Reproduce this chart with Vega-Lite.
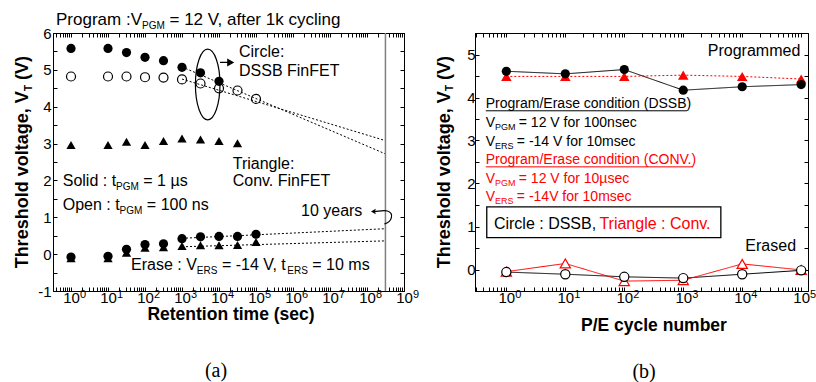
{
"$schema":"https://vega.github.io/schema/vega-lite/v6.json",
"background":"white",
"padding":{"left":13,"top":10,"right":0,"bottom":0},
"spacing":71,
"bounds":"flush",
"config":{
 "font":"Liberation Sans",
 "view":{"stroke":"black","strokeWidth":1},
 "axis":{"grid":false,"domainColor":"black","tickColor":"black","labelColor":"black","labelFont":"Liberation Sans","labelFontSize":15,"tickWidth":1,"domainWidth":1,"labelOverlap":false,"labelFlush":false,"labelBound":false}
},
"datasets":{
 "aPts":[
  {"s":"DSSB 1us P","t":1,"v":5.58},{"s":"DSSB 1us P","t":10,"v":5.58},{"s":"DSSB 1us P","t":31.6,"v":5.47},{"s":"DSSB 1us P","t":100,"v":5.34},{"s":"DSSB 1us P","t":316,"v":5.25},{"s":"DSSB 1us P","t":1000,"v":5.07},{"s":"DSSB 1us P","t":3162,"v":4.92},{"s":"DSSB 1us P","t":10000,"v":4.69},
  {"s":"DSSB 100ns P","t":1,"v":4.82},{"s":"DSSB 100ns P","t":10,"v":4.82},{"s":"DSSB 100ns P","t":31.6,"v":4.82},{"s":"DSSB 100ns P","t":100,"v":4.8},{"s":"DSSB 100ns P","t":316,"v":4.79},{"s":"DSSB 100ns P","t":1000,"v":4.74},{"s":"DSSB 100ns P","t":3162,"v":4.63},{"s":"DSSB 100ns P","t":10000,"v":4.5},{"s":"DSSB 100ns P","t":31623,"v":4.44},{"s":"DSSB 100ns P","t":100000,"v":4.21},
  {"s":"Conv P","t":1,"v":2.96},{"s":"Conv P","t":10,"v":2.96},{"s":"Conv P","t":31.6,"v":3.05},{"s":"Conv P","t":100,"v":2.96},{"s":"Conv P","t":316,"v":3.07},{"s":"Conv P","t":1000,"v":3.14},{"s":"Conv P","t":3162,"v":3.11},{"s":"Conv P","t":10000,"v":3.07},{"s":"Conv P","t":31623,"v":3.01},
  {"s":"DSSB E","t":1,"v":-0.08},{"s":"DSSB E","t":10,"v":-0.06},{"s":"DSSB E","t":31.6,"v":0.13},{"s":"DSSB E","t":100,"v":0.26},{"s":"DSSB E","t":316,"v":0.28},{"s":"DSSB E","t":1000,"v":0.42},{"s":"DSSB E","t":3162,"v":0.47},{"s":"DSSB E","t":10000,"v":0.48},{"s":"DSSB E","t":31623,"v":0.48},{"s":"DSSB E","t":100000,"v":0.54},
  {"s":"Conv E","t":1,"v":-0.11},{"s":"Conv E","t":10,"v":-0.11},{"s":"Conv E","t":31.6,"v":0.04},{"s":"Conv E","t":100,"v":0.17},{"s":"Conv E","t":316,"v":0.19},{"s":"Conv E","t":1000,"v":0.22},{"s":"Conv E","t":3162,"v":0.24},{"s":"Conv E","t":10000,"v":0.24},{"s":"Conv E","t":31623,"v":0.25},{"s":"Conv E","t":100000,"v":0.33}
 ],
 "aLines":[
  {"id":"L1","t":1000,"v":5.08},{"id":"L1","t":315000000,"v":2.72},
  {"id":"L2","t":1000,"v":4.75},{"id":"L2","t":315000000,"v":3.08},
  {"id":"L3","t":1000,"v":0.43},{"id":"L3","t":315000000,"v":0.69},
  {"id":"L4","t":1000,"v":0.2},{"id":"L4","t":315000000,"v":0.36}
 ],
 "aRule":[{"t":315000000}],
 "aShapes":[{"k":"ellipse","t":4950,"v":4.603},{"k":"arrow","t":15950,"v":5.201},{"k":"curve","t":270600000,"v":1.008}],
 "aText":[
  {"role":"title","t":0.3931,"v":6.226,"txt":"Program :V"},
  {"role":"title","t":459.3,"v":6.226,"txt":"= 12 V, after 1k cycling"},
  {"role":"titleSub","t":82.97,"v":6.117,"txt":"PGM"},
  {"role":"lab","t":34720,"v":5.337,"txt":"Circle:"},
  {"role":"lab","t":34720,"v":4.84,"txt":"DSSB FinFET"},
  {"role":"lab","t":23460,"v":2.304,"txt":"Triangle:"},
  {"role":"lab","t":23460,"v":1.851,"txt":"Conv. FinFET"},
  {"role":"lab","t":0.5967,"v":1.851,"txt":"Solid : t"},
  {"role":"lab","t":89.96,"v":1.851,"txt":"= 1 µs"},
  {"role":"lab","t":0.5967,"v":1.19,"txt":"Open : t"},
  {"role":"lab","t":112.2,"v":1.19,"txt":"= 100 ns"},
  {"role":"lab","t":1645000,"v":1.035,"txt":"10 years"},
  {"role":"lab","t":41.83,"v":-0.432,"txt":"Erase : V"},
  {"role":"lab","t":11980,"v":-0.432,"txt":"= -14 V, t"},
  {"role":"lab","t":3324000,"v":-0.432,"txt":"= 10 ms"},
  {"role":"labSub","t":16.55,"v":1.742,"txt":"PGM"},
  {"role":"labSub","t":20.58,"v":1.082,"txt":"PGM"},
  {"role":"labSub","t":2512,"v":-0.541,"txt":"ERS"},
  {"role":"labSub","t":701500,"v":-0.541,"txt":"ERS"},
  {"role":"ytitle","t":0.0688,"v":-0.386,"txt":"Threshold voltage, V"},
  {"role":"ytitle","t":0.0688,"v":4.726,"txt":"(V)"},
  {"role":"ytitleSub","t":0.0883,"v":4.424,"txt":"T"},
  {"role":"xtitle","t":21100,"v":-1.791,"txt":"Retention time (sec)"},
  {"role":"cap","t":8298,"v":-3.177,"txt":"(a)"},
  {"role":"exp","t":1,"v":-1.193,"txt":"0"},{"role":"exp","t":10,"v":-1.193,"txt":"1"},{"role":"exp","t":100,"v":-1.193,"txt":"2"},{"role":"exp","t":1000,"v":-1.193,"txt":"3"},{"role":"exp","t":10000,"v":-1.193,"txt":"4"},{"role":"exp","t":100000,"v":-1.193,"txt":"5"},{"role":"exp","t":1000000,"v":-1.193,"txt":"6"},{"role":"exp","t":10000000,"v":-1.193,"txt":"7"},{"role":"exp","t":100000000,"v":-1.193,"txt":"8"},{"role":"exp","t":1000000000,"v":-1.193,"txt":"9"}
 ],
 "bPts":[
  {"s":"DSSB P","n":1,"v":4.61},{"s":"DSSB P","n":10,"v":4.55},{"s":"DSSB P","n":100,"v":4.65},{"s":"DSSB P","n":1000,"v":4.17},{"s":"DSSB P","n":10000,"v":4.25},{"s":"DSSB P","n":100000,"v":4.3},
  {"s":"Conv P","n":1,"v":4.49},{"s":"Conv P","n":10,"v":4.49},{"s":"Conv P","n":100,"v":4.49},{"s":"Conv P","n":1000,"v":4.52},{"s":"Conv P","n":10000,"v":4.49},{"s":"Conv P","n":100000,"v":4.43},
  {"s":"DSSB E","n":1,"v":-0.06},{"s":"DSSB E","n":10,"v":-0.11},{"s":"DSSB E","n":100,"v":-0.17},{"s":"DSSB E","n":1000,"v":-0.2},{"s":"DSSB E","n":10000,"v":-0.11},{"s":"DSSB E","n":100000,"v":-0.02},
  {"s":"Conv E","n":1,"v":-0.05},{"s":"Conv E","n":10,"v":0.14},{"s":"Conv E","n":100,"v":-0.27},{"s":"Conv E","n":1000,"v":-0.25},{"s":"Conv E","n":10000,"v":0.13},{"s":"Conv E","n":100000,"v":-0.01}
 ],
 "bUnder":[{"s":"DSSB","n":0.4478,"n2":1156,"v":3.691},{"s":"CONV","n":0.4478,"n2":1466,"v":2.387}],
 "bBox":[{"n":0.4654,"n2":4344,"v":1.456,"v2":0.741}],
 "bText":[
  {"role":"lab16","n":2612,"v":4.971,"txt":"Programmed"},
  {"role":"lab16","n":0.6152,"v":0.944,"txt":"Circle : DSSB,"},
  {"role":"lab16","n":11300,"v":0.431,"txt":"Erased"},
  {"role":"lab16Red","n":37.85,"v":0.944,"txt":"Triangle : Conv."},
  {"role":"cond","n":0.4478,"v":3.761,"txt":"Program/Erase condition (DSSB)"},
  {"role":"cond","n":0.4478,"v":3.318,"txt":"V"},
  {"role":"cond","n":1.625,"v":3.318,"txt":"= 12 V for 100nsec"},
  {"role":"cond","n":0.4478,"v":2.876,"txt":"V"},
  {"role":"cond","n":1.506,"v":2.876,"txt":"= -14 V for 10msec"},
  {"role":"condSub","n":0.6392,"v":3.237,"txt":"PGM"},
  {"role":"condSub","n":0.6392,"v":2.795,"txt":"ERS"},
  {"role":"condRed","n":0.4478,"v":2.457,"txt":"Program/Erase condition (CONV.)"},
  {"role":"condRed","n":0.4478,"v":2.015,"txt":"V"},
  {"role":"condRed","n":1.625,"v":2.015,"txt":"= 12 V for 10µsec"},
  {"role":"condRed","n":0.4478,"v":1.595,"txt":"V"},
  {"role":"condRed","n":1.506,"v":1.595,"txt":"= -14V for 10msec"},
  {"role":"condSubRed","n":0.6392,"v":1.933,"txt":"PGM"},
  {"role":"condSubRed","n":0.6392,"v":1.514,"txt":"ERS"},
  {"role":"ytitle","n":0.1088,"v":0.0285,"txt":"Threshold voltage, V"},
  {"role":"ytitle","n":0.1088,"v":4.408,"txt":"(V)"},
  {"role":"ytitleSub","n":0.1268,"v":4.15,"txt":"T"},
  {"role":"xtitle","n":318.4,"v":-1.431,"txt":"P/E cycle number"},
  {"role":"cap","n":217,"v":-2.386,"txt":"(b)"},
  {"role":"exp","n":1,"v":-0.663,"txt":"0"},{"role":"exp","n":10,"v":-0.663,"txt":"1"},{"role":"exp","n":100,"v":-0.663,"txt":"2"},{"role":"exp","n":1000,"v":-0.663,"txt":"3"},{"role":"exp","n":10000,"v":-0.663,"txt":"4"},{"role":"exp","n":100000,"v":-0.663,"txt":"5"}
 ]
},
"hconcat":[
{
 "width":351,"height":258,
 "resolve":{"axis":{"x":"independent","y":"independent"}},
 "layer":[
  {"data":{"name":"aLines"},
   "mark":{"type":"line","color":"black","strokeWidth":1,"strokeDash":[2,2]},
   "encoding":{
    "x":{"field":"t","type":"quantitative","scale":{"type":"log","domain":[0.326,1000000000],"nice":false},
     "axis":{"orient":"bottom","title":null,"tickSize":-4,"labelPadding":3,"values":[0.4,0.5,0.6,0.7,0.8,0.9,1,2,3,4,5,6,7,8,9,10,20,30,40,50,60,70,80,90,100,200,300,400,500,600,700,800,900,1000,2000,3000,4000,5000,6000,7000,8000,9000,10000,20000,30000,40000,50000,60000,70000,80000,90000,100000,200000,300000,400000,500000,600000,700000,800000,900000,1000000,2000000,3000000,4000000,5000000,6000000,7000000,8000000,9000000,10000000,20000000,30000000,40000000,50000000,60000000,70000000,80000000,90000000,100000000,200000000,300000000,400000000,500000000,600000000,700000000,800000000,900000000,1000000000],
      "labelExpr":"indexof([1,10,100,1000,10000,100000,1000000,10000000,100000000,1000000000], datum.value) >= 0 ? '10' : ''"}},
    "y":{"field":"v","type":"quantitative","scale":{"domain":[-1,6],"nice":false,"zero":false},
     "axis":{"orient":"left","title":null,"tickSize":-4,"labelPadding":6,"values":[-1,-0.5,0,0.5,1,1.5,2,2.5,3,3.5,4,4.5,5,5.5,6],
      "labelExpr":"datum.value % 1 === 0 ? '' + datum.value : ''"}},
    "detail":{"field":"id"}}},
  {"data":{"name":"aRule"},
   "mark":{"type":"rule","color":"#808080","strokeWidth":1.5},
   "encoding":{"x":{"field":"t","type":"quantitative","scale":{"type":"log","domain":[0.326,1000000000],"nice":false},"axis":null}}},
  {"data":{"name":"aPts"},
   "transform":[{"filter":"datum.s !== 'DSSB 100ns P'"}],
   "mark":{"type":"point","filled":true,"color":"black","size":85,"opacity":1},
   "encoding":{
    "x":{"field":"t","type":"quantitative","scale":{"type":"log","domain":[0.326,1000000000],"nice":false},
     "axis":{"orient":"top","title":null,"labels":false,"tickSize":-4,"values":[0.4,0.5,0.6,0.7,0.8,0.9,1,2,3,4,5,6,7,8,9,10,20,30,40,50,60,70,80,90,100,200,300,400,500,600,700,800,900,1000,2000,3000,4000,5000,6000,7000,8000,9000,10000,20000,30000,40000,50000,60000,70000,80000,90000,100000,200000,300000,400000,500000,600000,700000,800000,900000,1000000,2000000,3000000,4000000,5000000,6000000,7000000,8000000,9000000,10000000,20000000,30000000,40000000,50000000,60000000,70000000,80000000,90000000,100000000,200000000,300000000,400000000,500000000,600000000,700000000,800000000,900000000,1000000000]}},
    "y":{"field":"v","type":"quantitative","scale":{"domain":[-1,6],"nice":false,"zero":false},
     "axis":{"orient":"right","title":null,"labels":false,"tickSize":-4,"values":[-1,-0.5,0,0.5,1,1.5,2,2.5,3,3.5,4,4.5,5,5.5,6]}},
    "shape":{"field":"s","type":"nominal","scale":{"domain":["DSSB 1us P","DSSB 100ns P","Conv P","DSSB E","Conv E"],"range":["circle","circle","triangle-up","circle","triangle-up"]},"legend":null}}},
  {"data":{"name":"aPts"},
   "transform":[{"filter":"datum.s === 'DSSB 100ns P'"}],
   "mark":{"type":"point","shape":"circle","filled":false,"color":"black","strokeWidth":1.2,"size":81,"opacity":1},
   "encoding":{
    "x":{"field":"t","type":"quantitative","scale":{"type":"log","domain":[0.326,1000000000],"nice":false},"axis":null},
    "y":{"field":"v","type":"quantitative","scale":{"domain":[-1,6],"nice":false,"zero":false},"axis":null}}},
  {"data":{"name":"aShapes"},
   "transform":[{"filter":"datum.k === 'ellipse'"}],
   "mark":{"type":"point","shape":"M0,-1C0.192,-1,0.348,-0.552,0.348,0C0.348,0.552,0.192,1,0,1C-0.192,1,-0.348,0.552,-0.348,0C-0.348,-0.552,-0.192,-1,0,-1Z","size":4984,"filled":false,"color":"black","strokeWidth":1.2,"opacity":1},
   "encoding":{
    "x":{"field":"t","type":"quantitative","scale":{"type":"log","domain":[0.326,1000000000],"nice":false},"axis":null},
    "y":{"field":"v","type":"quantitative","scale":{"domain":[-1,6],"nice":false,"zero":false},"axis":null}}},
  {"data":{"name":"aShapes"},
   "transform":[{"filter":"datum.k === 'arrow'"}],
   "mark":{"type":"point","shape":"M-1,0L0.4,0M0.2,-0.45L1,0L0.2,0.45Z","size":169,"filled":true,"color":"black","stroke":"black","strokeWidth":1.2,"opacity":1},
   "encoding":{
    "x":{"field":"t","type":"quantitative","scale":{"type":"log","domain":[0.326,1000000000],"nice":false},"axis":null},
    "y":{"field":"v","type":"quantitative","scale":{"domain":[-1,6],"nice":false,"zero":false},"axis":null}}},
  {"data":{"name":"aShapes"},
   "transform":[{"filter":"datum.k === 'curve'"}],
   "mark":{"type":"point","shape":"M0.13,0.7C0.9,0.5,1.15,-0.35,0.45,-0.6C0.1,-0.7,-0.4,-0.58,-0.85,-0.55","size":400,"filled":false,"color":"black","strokeWidth":1.2,"opacity":1},
   "encoding":{
    "x":{"field":"t","type":"quantitative","scale":{"type":"log","domain":[0.326,1000000000],"nice":false},"axis":null},
    "y":{"field":"v","type":"quantitative","scale":{"domain":[-1,6],"nice":false,"zero":false},"axis":null}}},
  {"data":{"name":"aShapes"},
   "transform":[{"filter":"datum.k === 'curve'"}],
   "mark":{"type":"point","shape":"M-1.2,-0.55L-0.72,-0.82L-0.8,-0.55L-0.72,-0.28Z","size":400,"filled":true,"color":"black","opacity":1},
   "encoding":{
    "x":{"field":"t","type":"quantitative","scale":{"type":"log","domain":[0.326,1000000000],"nice":false},"axis":null},
    "y":{"field":"v","type":"quantitative","scale":{"domain":[-1,6],"nice":false,"zero":false},"axis":null}}},
  {"data":{"name":"aText"},"transform":[{"filter":"datum.role === 'title'"}],
   "mark":{"type":"text","fontSize":17,"align":"left","baseline":"alphabetic","color":"black"},
   "encoding":{"x":{"field":"t","type":"quantitative","scale":{"type":"log","domain":[0.326,1000000000],"nice":false},"axis":null},"y":{"field":"v","type":"quantitative","scale":{"domain":[-1,6],"nice":false,"zero":false},"axis":null},"text":{"field":"txt"}}},
  {"data":{"name":"aText"},"transform":[{"filter":"datum.role === 'titleSub' || datum.role === 'labSub'"}],
   "mark":{"type":"text","fontSize":10,"align":"left","baseline":"alphabetic","color":"black"},
   "encoding":{"x":{"field":"t","type":"quantitative","scale":{"type":"log","domain":[0.326,1000000000],"nice":false},"axis":null},"y":{"field":"v","type":"quantitative","scale":{"domain":[-1,6],"nice":false,"zero":false},"axis":null},"text":{"field":"txt"}}},
  {"data":{"name":"aText"},"transform":[{"filter":"datum.role === 'lab'"}],
   "mark":{"type":"text","fontSize":16,"align":"left","baseline":"alphabetic","color":"black"},
   "encoding":{"x":{"field":"t","type":"quantitative","scale":{"type":"log","domain":[0.326,1000000000],"nice":false},"axis":null},"y":{"field":"v","type":"quantitative","scale":{"domain":[-1,6],"nice":false,"zero":false},"axis":null},"text":{"field":"txt"}}},
  {"data":{"name":"aText"},"transform":[{"filter":"datum.role === 'ytitle'"}],
   "mark":{"type":"text","fontSize":18,"fontWeight":"bold","angle":270,"align":"left","baseline":"alphabetic","color":"black"},
   "encoding":{"x":{"field":"t","type":"quantitative","scale":{"type":"log","domain":[0.326,1000000000],"nice":false},"axis":null},"y":{"field":"v","type":"quantitative","scale":{"domain":[-1,6],"nice":false,"zero":false},"axis":null},"text":{"field":"txt"}}},
  {"data":{"name":"aText"},"transform":[{"filter":"datum.role === 'ytitleSub'"}],
   "mark":{"type":"text","fontSize":10,"fontWeight":"bold","angle":270,"align":"left","baseline":"alphabetic","color":"black"},
   "encoding":{"x":{"field":"t","type":"quantitative","scale":{"type":"log","domain":[0.326,1000000000],"nice":false},"axis":null},"y":{"field":"v","type":"quantitative","scale":{"domain":[-1,6],"nice":false,"zero":false},"axis":null},"text":{"field":"txt"}}},
  {"data":{"name":"aText"},"transform":[{"filter":"datum.role === 'xtitle'"}],
   "mark":{"type":"text","fontSize":17.5,"fontWeight":"bold","align":"center","baseline":"alphabetic","color":"black"},
   "encoding":{"x":{"field":"t","type":"quantitative","scale":{"type":"log","domain":[0.326,1000000000],"nice":false},"axis":null},"y":{"field":"v","type":"quantitative","scale":{"domain":[-1,6],"nice":false,"zero":false},"axis":null},"text":{"field":"txt"}}},
  {"data":{"name":"aText"},"transform":[{"filter":"datum.role === 'cap'"}],
   "mark":{"type":"text","fontSize":20,"font":"Liberation Serif","align":"center","baseline":"middle","color":"black"},
   "encoding":{"x":{"field":"t","type":"quantitative","scale":{"type":"log","domain":[0.326,1000000000],"nice":false},"axis":null},"y":{"field":"v","type":"quantitative","scale":{"domain":[-1,6],"nice":false,"zero":false},"axis":null},"text":{"field":"txt"}}},
  {"data":{"name":"aText"},"transform":[{"filter":"datum.role === 'exp'"}],
   "mark":{"type":"text","fontSize":11,"dx":12,"align":"center","baseline":"alphabetic","color":"black"},
   "encoding":{"x":{"field":"t","type":"quantitative","scale":{"type":"log","domain":[0.326,1000000000],"nice":false},"axis":null},"y":{"field":"v","type":"quantitative","scale":{"domain":[-1,6],"nice":false,"zero":false},"axis":null},"text":{"field":"txt"}}}
 ]
},
{
 "width":333,"height":258,
 "resolve":{"axis":{"x":"independent","y":"independent"}},
 "layer":[
  {"data":{"name":"bPts"},
   "mark":{"type":"line","strokeWidth":1},
   "encoding":{
    "x":{"field":"n","type":"quantitative","scale":{"type":"log","domain":[0.294,130600],"nice":false},
     "axis":{"orient":"bottom","title":null,"tickSize":-4,"labelPadding":3,"values":[0.3,0.4,0.5,0.6,0.7,0.8,0.9,1,2,3,4,5,6,7,8,9,10,20,30,40,50,60,70,80,90,100,200,300,400,500,600,700,800,900,1000,2000,3000,4000,5000,6000,7000,8000,9000,10000,20000,30000,40000,50000,60000,70000,80000,90000,100000],
      "labelExpr":"indexof([1,10,100,1000,10000,100000], datum.value) >= 0 ? '10' : ''"}},
    "y":{"field":"v","type":"quantitative","scale":{"domain":[-0.5,5.5],"nice":false,"zero":false},
     "axis":{"orient":"left","title":null,"tickSize":-4,"labelPadding":4,"values":[-0.5,0,0.5,1,1.5,2,2.5,3,3.5,4,4.5,5,5.5],
      "labelExpr":"datum.value % 1 === 0 ? '' + datum.value : ''"}},
    "color":{"field":"s","type":"nominal","scale":{"domain":["DSSB P","Conv P","DSSB E","Conv E"],"range":["black","red","black","red"]},"legend":null},
    "strokeDash":{"field":"s","type":"nominal","scale":{"domain":["DSSB P","Conv P","DSSB E","Conv E"],"range":[[1,0],[2,2],[1,0],[1,0]]},"legend":null}}},
  {"data":{"name":"bPts"},"transform":[{"filter":"datum.s === 'Conv P'"}],
   "mark":{"type":"point","shape":"triangle-up","filled":true,"color":"red","size":110,"opacity":1},
   "encoding":{
    "x":{"field":"n","type":"quantitative","scale":{"type":"log","domain":[0.294,130600],"nice":false},
     "axis":{"orient":"top","title":null,"labels":false,"tickSize":-4,"values":[0.3,0.4,0.5,0.6,0.7,0.8,0.9,1,2,3,4,5,6,7,8,9,10,20,30,40,50,60,70,80,90,100,200,300,400,500,600,700,800,900,1000,2000,3000,4000,5000,6000,7000,8000,9000,10000,20000,30000,40000,50000,60000,70000,80000,90000,100000]}},
    "y":{"field":"v","type":"quantitative","scale":{"domain":[-0.5,5.5],"nice":false,"zero":false},
     "axis":{"orient":"right","title":null,"labels":false,"tickSize":-4,"values":[-0.5,0,0.5,1,1.5,2,2.5,3,3.5,4,4.5,5,5.5]}}}},
  {"data":{"name":"bPts"},"transform":[{"filter":"datum.s === 'Conv E'"}],
   "mark":{"type":"point","shape":"triangle-up","filled":true,"fill":"white","stroke":"red","strokeWidth":1.2,"size":105,"opacity":1},
   "encoding":{
    "x":{"field":"n","type":"quantitative","scale":{"type":"log","domain":[0.294,130600],"nice":false},"axis":null},
    "y":{"field":"v","type":"quantitative","scale":{"domain":[-0.5,5.5],"nice":false,"zero":false},"axis":null}}},
  {"data":{"name":"bPts"},"transform":[{"filter":"datum.s === 'DSSB P'"}],
   "mark":{"type":"point","shape":"circle","filled":true,"color":"black","size":85,"opacity":1},
   "encoding":{
    "x":{"field":"n","type":"quantitative","scale":{"type":"log","domain":[0.294,130600],"nice":false},"axis":null},
    "y":{"field":"v","type":"quantitative","scale":{"domain":[-0.5,5.5],"nice":false,"zero":false},"axis":null}}},
  {"data":{"name":"bPts"},"transform":[{"filter":"datum.s === 'DSSB E'"}],
   "mark":{"type":"point","shape":"circle","filled":true,"fill":"white","stroke":"black","strokeWidth":1.2,"size":85,"opacity":1},
   "encoding":{
    "x":{"field":"n","type":"quantitative","scale":{"type":"log","domain":[0.294,130600],"nice":false},"axis":null},
    "y":{"field":"v","type":"quantitative","scale":{"domain":[-0.5,5.5],"nice":false,"zero":false},"axis":null}}},
  {"data":{"name":"bUnder"},"transform":[{"filter":"datum.s === 'DSSB'"}],
   "mark":{"type":"rule","color":"black","strokeWidth":1},
   "encoding":{
    "x":{"field":"n","type":"quantitative","scale":{"type":"log","domain":[0.294,130600],"nice":false},"axis":null},
    "x2":{"field":"n2"},
    "y":{"field":"v","type":"quantitative","scale":{"domain":[-0.5,5.5],"nice":false,"zero":false},"axis":null}}},
  {"data":{"name":"bUnder"},"transform":[{"filter":"datum.s === 'CONV'"}],
   "mark":{"type":"rule","color":"red","strokeWidth":1},
   "encoding":{
    "x":{"field":"n","type":"quantitative","scale":{"type":"log","domain":[0.294,130600],"nice":false},"axis":null},
    "x2":{"field":"n2"},
    "y":{"field":"v","type":"quantitative","scale":{"domain":[-0.5,5.5],"nice":false,"zero":false},"axis":null}}},
  {"data":{"name":"bBox"},
   "mark":{"type":"rect","filled":false,"color":"black","strokeWidth":1.3},
   "encoding":{
    "x":{"field":"n","type":"quantitative","scale":{"type":"log","domain":[0.294,130600],"nice":false},"axis":null},
    "x2":{"field":"n2"},
    "y":{"field":"v","type":"quantitative","scale":{"domain":[-0.5,5.5],"nice":false,"zero":false},"axis":null},
    "y2":{"field":"v2"}}},
  {"data":{"name":"bText"},"transform":[{"filter":"datum.role === 'lab16'"}],
   "mark":{"type":"text","fontSize":16,"align":"left","baseline":"alphabetic","color":"black"},
   "encoding":{"x":{"field":"n","type":"quantitative","scale":{"type":"log","domain":[0.294,130600],"nice":false},"axis":null},"y":{"field":"v","type":"quantitative","scale":{"domain":[-0.5,5.5],"nice":false,"zero":false},"axis":null},"text":{"field":"txt"}}},
  {"data":{"name":"bText"},"transform":[{"filter":"datum.role === 'lab16Red'"}],
   "mark":{"type":"text","fontSize":16,"align":"left","baseline":"alphabetic","color":"red"},
   "encoding":{"x":{"field":"n","type":"quantitative","scale":{"type":"log","domain":[0.294,130600],"nice":false},"axis":null},"y":{"field":"v","type":"quantitative","scale":{"domain":[-0.5,5.5],"nice":false,"zero":false},"axis":null},"text":{"field":"txt"}}},
  {"data":{"name":"bText"},"transform":[{"filter":"datum.role === 'cond'"}],
   "mark":{"type":"text","fontSize":14,"align":"left","baseline":"alphabetic","color":"black"},
   "encoding":{"x":{"field":"n","type":"quantitative","scale":{"type":"log","domain":[0.294,130600],"nice":false},"axis":null},"y":{"field":"v","type":"quantitative","scale":{"domain":[-0.5,5.5],"nice":false,"zero":false},"axis":null},"text":{"field":"txt"}}},
  {"data":{"name":"bText"},"transform":[{"filter":"datum.role === 'condSub'"}],
   "mark":{"type":"text","fontSize":9,"align":"left","baseline":"alphabetic","color":"black"},
   "encoding":{"x":{"field":"n","type":"quantitative","scale":{"type":"log","domain":[0.294,130600],"nice":false},"axis":null},"y":{"field":"v","type":"quantitative","scale":{"domain":[-0.5,5.5],"nice":false,"zero":false},"axis":null},"text":{"field":"txt"}}},
  {"data":{"name":"bText"},"transform":[{"filter":"datum.role === 'condRed'"}],
   "mark":{"type":"text","fontSize":14,"align":"left","baseline":"alphabetic","color":"red"},
   "encoding":{"x":{"field":"n","type":"quantitative","scale":{"type":"log","domain":[0.294,130600],"nice":false},"axis":null},"y":{"field":"v","type":"quantitative","scale":{"domain":[-0.5,5.5],"nice":false,"zero":false},"axis":null},"text":{"field":"txt"}}},
  {"data":{"name":"bText"},"transform":[{"filter":"datum.role === 'condSubRed'"}],
   "mark":{"type":"text","fontSize":9,"align":"left","baseline":"alphabetic","color":"red"},
   "encoding":{"x":{"field":"n","type":"quantitative","scale":{"type":"log","domain":[0.294,130600],"nice":false},"axis":null},"y":{"field":"v","type":"quantitative","scale":{"domain":[-0.5,5.5],"nice":false,"zero":false},"axis":null},"text":{"field":"txt"}}},
  {"data":{"name":"bText"},"transform":[{"filter":"datum.role === 'ytitle'"}],
   "mark":{"type":"text","fontSize":18,"fontWeight":"bold","angle":270,"align":"left","baseline":"alphabetic","color":"black"},
   "encoding":{"x":{"field":"n","type":"quantitative","scale":{"type":"log","domain":[0.294,130600],"nice":false},"axis":null},"y":{"field":"v","type":"quantitative","scale":{"domain":[-0.5,5.5],"nice":false,"zero":false},"axis":null},"text":{"field":"txt"}}},
  {"data":{"name":"bText"},"transform":[{"filter":"datum.role === 'ytitleSub'"}],
   "mark":{"type":"text","fontSize":10,"fontWeight":"bold","angle":270,"align":"left","baseline":"alphabetic","color":"black"},
   "encoding":{"x":{"field":"n","type":"quantitative","scale":{"type":"log","domain":[0.294,130600],"nice":false},"axis":null},"y":{"field":"v","type":"quantitative","scale":{"domain":[-0.5,5.5],"nice":false,"zero":false},"axis":null},"text":{"field":"txt"}}},
  {"data":{"name":"bText"},"transform":[{"filter":"datum.role === 'xtitle'"}],
   "mark":{"type":"text","fontSize":17.5,"fontWeight":"bold","align":"center","baseline":"alphabetic","color":"black"},
   "encoding":{"x":{"field":"n","type":"quantitative","scale":{"type":"log","domain":[0.294,130600],"nice":false},"axis":null},"y":{"field":"v","type":"quantitative","scale":{"domain":[-0.5,5.5],"nice":false,"zero":false},"axis":null},"text":{"field":"txt"}}},
  {"data":{"name":"bText"},"transform":[{"filter":"datum.role === 'cap'"}],
   "mark":{"type":"text","fontSize":20,"font":"Liberation Serif","align":"center","baseline":"middle","color":"black"},
   "encoding":{"x":{"field":"n","type":"quantitative","scale":{"type":"log","domain":[0.294,130600],"nice":false},"axis":null},"y":{"field":"v","type":"quantitative","scale":{"domain":[-0.5,5.5],"nice":false,"zero":false},"axis":null},"text":{"field":"txt"}}},
  {"data":{"name":"bText"},"transform":[{"filter":"datum.role === 'exp'"}],
   "mark":{"type":"text","fontSize":11,"dx":12,"align":"center","baseline":"alphabetic","color":"black"},
   "encoding":{"x":{"field":"n","type":"quantitative","scale":{"type":"log","domain":[0.294,130600],"nice":false},"axis":null},"y":{"field":"v","type":"quantitative","scale":{"domain":[-0.5,5.5],"nice":false,"zero":false},"axis":null},"text":{"field":"txt"}}}
 ]
}
]
}
